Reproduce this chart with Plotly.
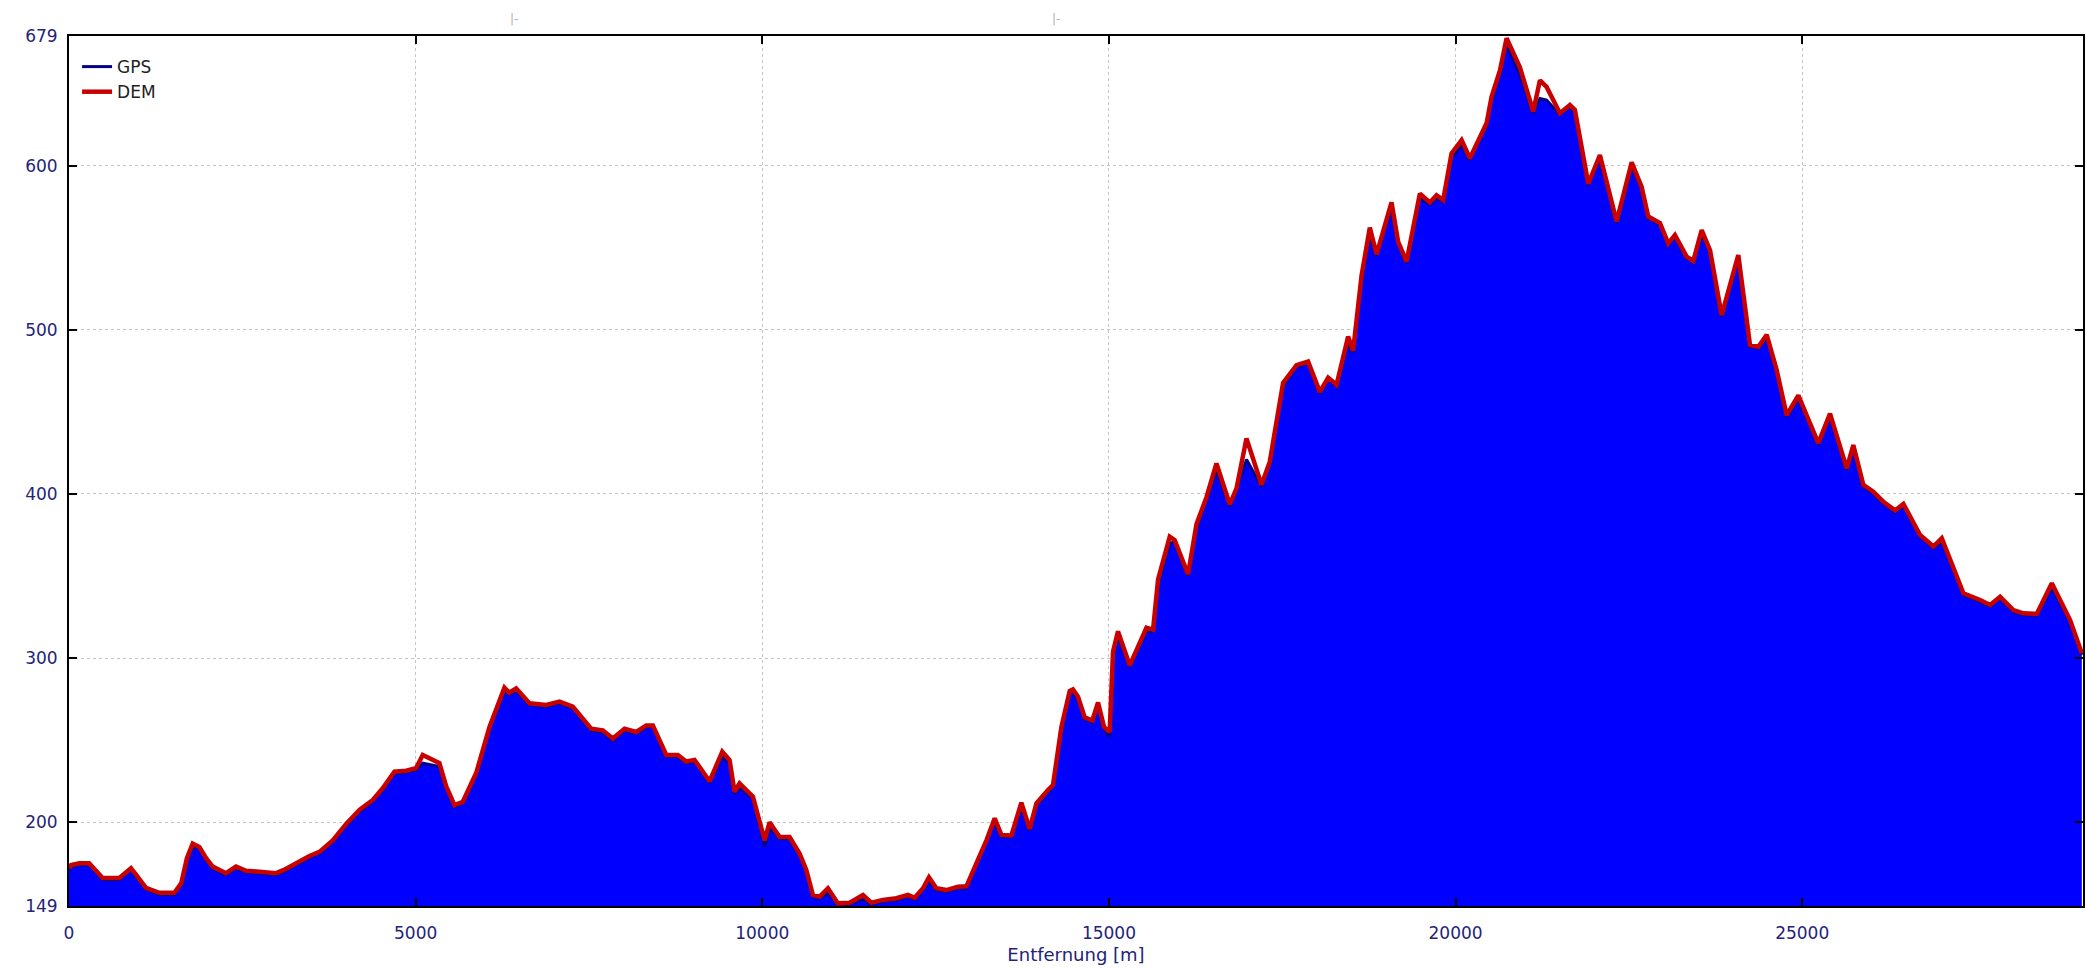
import plotly.graph_objects as go

# distance along the track [m]
distance = [0, 30, 150, 290, 400, 485, 726, 800, 894, 950, 1111, 1303, 1520, 1620, 1700, 1784, 1880, 1980,
            2072, 2265, 2410, 2554, 2746, 2987, 3100, 3227, 3468, 3612, 3804, 3997, 4189, 4381, 4525, 4694,
            4863, 5007, 5102, 5343, 5440, 5560, 5680, 5873, 6065, 6281, 6350, 6450, 6642, 6883, 7075, 7267,
            7532, 7700, 7844, 8013, 8182, 8326, 8422, 8615, 8782, 8903, 9023, 9240, 9423, 9528, 9600, 9672,
            9865, 10009, 10033, 10105, 10250, 10394, 10538, 10635, 10730, 10827, 10947, 11091, 11260, 11452,
            11573, 11741, 11934, 12101, 12198, 12318, 12404, 12511, 12655, 12823, 12944, 13088, 13233, 13352,
            13449, 13593, 13737, 13857, 13954, 14121, 14193, 14314, 14434, 14481, 14554, 14650, 14760, 14843,
            14930, 15010, 15059, 15131, 15300, 15541, 15637, 15709, 15877, 15949, 16141, 16263, 16407, 16551,
            16743, 16840, 16984, 17201, 17320, 17512, 17706, 17873, 18042, 18162, 18283, 18450, 18522, 18644,
            18763, 18860, 19076, 19172, 19293, 19485, 19629, 19725, 19821, 19942, 20087, 20206, 20447, 20519,
            20640, 20736, 20928, 21120, 21217, 21313, 21505, 21649, 21721, 21914, 22082, 22323, 22540, 22684,
            22779, 22948, 23068, 23164, 23333, 23429, 23550, 23670, 23838, 24078, 24247, 24367, 24488, 24632,
            24776, 24944, 25232, 25401, 25642, 25737, 25882, 26026, 26170, 26339, 26459, 26700, 26892, 27013,
            27325, 27566, 27710, 27854, 28046, 28190, 28384, 28600, 28864, 29033]

# DEM elevation [m]
dem_elev = [172, 174, 175, 175, 170, 166, 166, 169, 172, 169, 160, 157, 157, 163, 178, 187, 185, 178,
            173, 169, 173, 170.5, 170, 169, 171, 174, 179.5, 182, 189, 199, 207.5, 213.6, 220.7, 230.8,
            231.4, 233, 241, 236, 222, 210.5, 212.5, 230, 258, 282, 279, 281.6, 272.5, 271.5, 273.5, 270.4,
            257, 256, 251, 257, 255, 259, 259, 241, 241, 237, 238, 225, 243, 238, 218.6, 223.7,
            215.6, 193, 189, 200, 191, 191, 181, 171, 155.7, 154.7, 159.8, 150.6, 151, 155.7,
            151, 152.7, 153.7, 155.7, 154, 159.8, 166.5, 159.8, 158.7, 160.8, 161, 175, 189, 202.4,
            192.3, 192, 212, 196, 211.5, 219.7, 222.7, 258, 280, 281, 276.5, 264, 262, 273,
            258, 255, 304, 316.3, 295.6, 318.5, 317.4, 347.9, 374, 371.8, 351.1, 381.6, 398, 418.6,
            393.6, 403.4, 433.9, 405.6, 419.7, 467.6, 478.5, 480.7, 462.2, 470.9, 466.5, 495.9, 487.2, 533,
            562.3, 546, 577.6, 553.6, 541.6, 583, 577.6, 582, 579, 607.5, 615.6, 604.5, 625.8, 642,
            658, 677.6, 660, 633, 652, 648, 632, 637, 634, 589, 606.5, 566, 602, 587,
            569, 565, 552.7, 557.8, 544.6, 542, 560.8, 548.6, 509, 545.6, 490.8, 489.7, 497, 475.5,
            448, 460, 431, 449, 415.6, 429.8, 405.5, 401.4, 395.3, 390, 394, 375, 368, 373,
            339.5, 335.4, 332.4, 337.4, 329.3, 327.3, 327, 345.6, 323.2, 303]

# GPS elevation [m]
gps_elev = [171, 173, 174, 174, 169, 165, 165, 168, 171, 168, 159, 156, 156, 162, 176, 185, 184, 177,
            172, 168, 172, 169.5, 169, 168, 170, 173, 178.5, 181, 188, 198, 206.5, 212.6, 219.7, 229.8,
            230.4, 232, 236, 234, 221, 209.5, 211.5, 229, 257, 280, 278, 280, 271.5, 270.5, 272.5, 269.4,
            256, 255, 250, 256, 254, 258, 258, 240, 240, 236, 237, 224, 240, 236, 217.6, 221,
            214.6, 190, 185, 197, 190, 190, 180, 170, 154.7, 153.7, 157, 149.6, 150, 153,
            150, 151.7, 152.7, 154.7, 153, 158.8, 164, 158.8, 157.7, 159.8, 160, 174, 188, 200,
            191.3, 191, 209, 195, 210.5, 218.7, 221.7, 256, 278, 279, 275.5, 263, 261, 271,
            257, 252, 300, 313, 294.6, 316, 316.4, 345, 370, 370.8, 350.1, 379, 396, 414,
            392.6, 402.4, 421, 404.6, 418.7, 465, 477.5, 479.7, 461.2, 469.9, 465.5, 492, 486.2, 530,
            558, 545, 574, 552.6, 540.6, 580, 576.6, 580, 578, 605, 612, 603.5, 624, 640,
            656, 674, 655, 632, 641, 640, 631, 636, 633, 588, 604, 565, 599, 586,
            568, 564, 551.7, 556.8, 543.6, 541, 558, 547.6, 508, 543, 489.8, 488.7, 495, 474.5,
            447, 458, 430, 447, 414.6, 427, 404.5, 400.4, 394.3, 389, 393, 374, 367, 371,
            338.5, 334.4, 331.4, 336.4, 328.3, 326.3, 326, 343, 322.2, 302]

x_ticks = [0, 5000, 10000, 15000, 20000, 25000]
y_ticks = [149, 200, 300, 400, 500, 600, 679]
x_range = [0, 29050]
y_range = [149, 679]

label_color = "#23237a"
font_family = "DejaVu Sans"

fig = go.Figure()

# blue area below the GPS profile
fig.add_trace(go.Scatter(
    x=distance, y=gps_elev, mode="lines", fill="tozeroy",
    fillcolor="#0000ff", line=dict(color="#0000ff", width=0),
    showlegend=False, hoverinfo="skip"))

fig.add_trace(go.Scatter(
    x=distance, y=gps_elev, mode="lines", name="GPS",
    line=dict(color="#00008b", width=3)))

fig.add_trace(go.Scatter(
    x=distance, y=dem_elev, mode="lines", name="DEM",
    line=dict(color="#c80000", width=4.5)))

axis_common = dict(
    showline=True, linecolor="black", linewidth=2, mirror="ticks",
    ticks="inside", ticklen=8, tickwidth=2, tickcolor="black",
    showgrid=True, gridcolor="#c4c4c4", gridwidth=1, griddash="dot",
    zeroline=False,
    tickfont=dict(family=font_family, size=17, color=label_color),
)

fig.update_xaxes(range=x_range, tickvals=x_ticks, ticktext=[str(v) for v in x_ticks],
                 ticklabelstandoff=11,
                 title=dict(text="Entfernung [m]", font=dict(family=font_family, size=18, color=label_color),
                            standoff=6),
                 **axis_common)
fig.update_yaxes(range=y_range, tickvals=y_ticks, ticktext=[str(v) for v in y_ticks],
                 ticklabelstandoff=6, **axis_common)

fig.update_layout(
    width=2086, height=970,
    margin=dict(l=69, r=3, t=36, b=64, autoexpand=False),
    plot_bgcolor="white", paper_bgcolor="white",
    font=dict(family=font_family, color=label_color),
    legend=dict(x=0.004, y=0.985, xanchor="left", yanchor="top",
                bgcolor="rgba(255,255,255,0)", borderwidth=0,
                font=dict(family=font_family, size=17, color="#222222"),
                itemwidth=30, tracegroupgap=0),
    annotations=[
        dict(text="|-", x=0.218, y=1, xref="paper", yref="paper", yshift=26,
             showarrow=False, font=dict(family=font_family, size=12, color="#b0b0b0")),
        dict(text="|-", x=0.490, y=1, xref="paper", yref="paper", yshift=26,
             showarrow=False, font=dict(family=font_family, size=12, color="#b0b0b0")),
    ],
)

fig.write_html("out.html",
               config={"displayModeBar": False},
               post_script="document.body.style.margin='0';document.body.style.overflow='hidden';")
